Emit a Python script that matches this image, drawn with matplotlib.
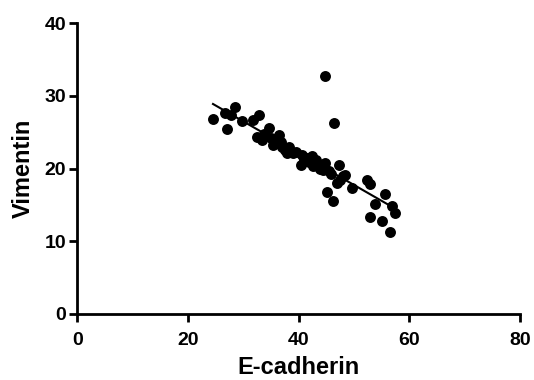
import numpy as np
import matplotlib
matplotlib.use("Agg")
import matplotlib.pyplot as plt

plt.rcParams['font.family'] = ['Liberation Sans', 'DejaVu Sans']

ecad = [24.5, 26.6, 27.1, 27.8, 28.4, 29.8, 31.8, 32.5, 32.9, 33.3, 33.8, 34.6, 35.0,
        35.4, 35.7, 36.0, 36.4, 36.8, 37.0, 37.5, 37.9, 38.3, 39.0, 39.5, 40.4, 40.6,
        40.9, 41.4, 41.8, 42.3, 42.6, 43.2, 43.5, 43.9, 44.4, 44.7, 44.7, 45.1, 45.4,
        45.8, 46.2, 46.4, 46.9, 47.3, 47.5, 48.0, 48.4, 49.7, 52.3, 52.8, 52.8, 53.8,
        55.0, 55.6, 56.5, 56.8, 57.4]
vim = [26.8, 27.6, 25.5, 27.4, 28.5, 26.5, 26.7, 24.4, 27.4, 23.9, 24.8, 25.6, 24.2,
       23.3, 23.5, 24.0, 24.6, 23.6, 23.0, 22.5, 22.1, 23.0, 22.2, 22.3, 20.5, 21.9,
       21.2, 21.4, 20.9, 21.7, 20.4, 21.2, 20.3, 20.0, 19.8, 20.7, 32.8, 16.8, 19.6,
       19.2, 15.5, 26.2, 18.0, 20.5, 18.4, 19.0, 19.1, 17.3, 18.4, 17.9, 13.3, 15.1,
       12.8, 16.5, 11.2, 14.8, 13.9]

x = np.array(ecad)
y = np.array(vim)
k, b = np.polyfit(x, y, 1)

fig = plt.figure(figsize=(5.34, 3.8), dpi=100)
ax = fig.add_axes([0.145, 0.174, 0.829, 0.765])
xs = np.array([x.min(), x.max()])
ax.plot(xs, k * xs + b, color='black', lw=1.5, zorder=2)
ax.scatter(x, y, s=62, color='black', zorder=3, linewidths=0)

ax.set_xlim(0, 80)
ax.set_ylim(0, 40)
ax.set_xticks([0, 20, 40, 60, 80])
ax.set_yticks([0, 10, 20, 30, 40])
for s in ['top', 'right']:
    ax.spines[s].set_visible(False)
for s in ['left', 'bottom']:
    ax.spines[s].set_linewidth(2.0)
ax.tick_params(direction='out', length=5.8, width=2.0, labelsize=14)
ax.tick_params(axis='x', pad=7.5)
ax.tick_params(axis='y', pad=2.5)
for lab in ax.get_xticklabels() + ax.get_yticklabels():
    lab.set_fontweight('bold')
ax.set_xlabel('E-cadherin', fontsize=17, fontweight='bold', labelpad=5)
ax.set_ylabel('Vimentin', fontsize=17, fontweight='bold', labelpad=7)

fig.savefig('out.png', dpi=100)
